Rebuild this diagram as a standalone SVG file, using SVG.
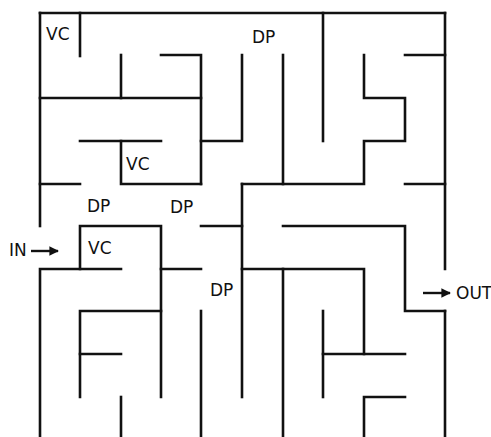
<svg xmlns="http://www.w3.org/2000/svg" width="491" height="437" viewBox="0 0 491 437">
<style>
.w{fill:none;stroke:#111;stroke-width:2.6;stroke-linecap:square;stroke-linejoin:miter}
.t{font-family:"DejaVu Sans",sans-serif;font-size:17px;fill:#111}
.a{stroke:#111;stroke-width:2.4;fill:none}
</style>
<defs>
<marker id="ah" viewBox="0 0 10 10" refX="9" refY="5" markerWidth="4" markerHeight="4" orient="auto" markerUnits="strokeWidth">
<path d="M0,0 L10,5 L0,10 z" fill="#111"/>
</marker>
</defs>
<rect width="491" height="437" fill="#fff"/>
<g id="connectors">
<path class="w" d="M40,13 H445"/>
<path class="w" d="M40,13 V226"/>
<path class="w" d="M445,13 V269"/>
<path class="w" d="M445,311 V437"/>
<path class="w" d="M80,13 V56"/>
<path class="w" d="M121,55 V98"/>
<path class="w" d="M40,98 H201"/>
<path class="w" d="M161,55 H201 V184"/>
<path class="w" d="M242,55 V141 H201"/>
<path class="w" d="M80,141 H161"/>
<path class="w" d="M121,141 V184 H201"/>
<path class="w" d="M40,184 H80"/>
<path class="w" d="M323,13 V141"/>
<path class="w" d="M283,55 V184"/>
<path class="w" d="M242,184 H364 V141 H405 V98 H364 V55"/>
<path class="w" d="M405,55 H445"/>
<path class="w" d="M405,184 H445"/>
<path class="w" d="M242,184 V397"/>
<path class="w" d="M80,269 V226 H161 V397"/>
<path class="w" d="M40,437 V269 H121"/>
<path class="w" d="M161,269 H201"/>
<path class="w" d="M161,311 H80 V397"/>
<path class="w" d="M80,354 H121"/>
<path class="w" d="M121,397 V437"/>
<path class="w" d="M201,311 V437"/>
<path class="w" d="M201,226 H242"/>
<path class="w" d="M283,226 H405 V311 H445"/>
<path class="w" d="M242,269 H364 V354"/>
<path class="w" d="M283,269 V437"/>
<path class="w" d="M323,311 V397"/>
<path class="w" d="M323,354 H405"/>
<path class="w" d="M364,437 V397 H405"/>
<line class="a" x1="31" y1="251" x2="58" y2="251" marker-end="url(#ah)"/>
<line class="a" x1="423" y1="293" x2="450" y2="293" marker-end="url(#ah)"/>
</g>
<g id="vc1"><text class="t" x="46" y="40">VC</text></g>
<g id="dp1"><text class="t" x="252" y="43">DP</text></g>
<g id="vc2"><text class="t" x="126" y="170">VC</text></g>
<g id="dp2"><text class="t" x="87" y="212">DP</text></g>
<g id="dp3"><text class="t" x="170" y="213">DP</text></g>
<g id="in"><text class="t" x="9" y="256">IN</text></g>
<g id="vc3"><text class="t" x="88" y="254">VC</text></g>
<g id="dp4"><text class="t" x="210" y="296">DP</text></g>
<g id="out"><text class="t" x="456" y="299">OUT</text></g>
</svg>
